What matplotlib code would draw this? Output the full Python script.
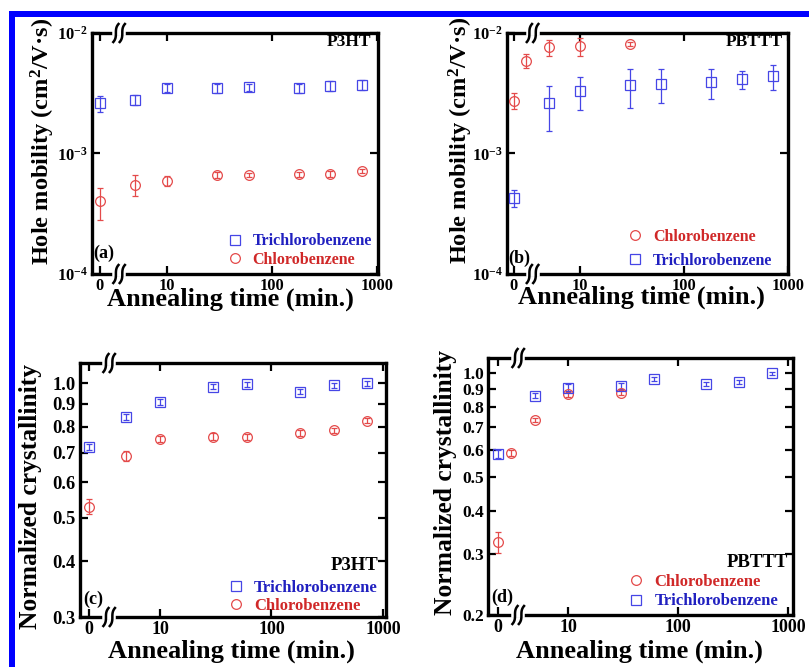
import numpy as np
import matplotlib
matplotlib.use("Agg")
import matplotlib.pyplot as plt
from matplotlib.lines import Line2D
from matplotlib.patches import Rectangle
from matplotlib.transforms import IdentityTransform

plt.rcParams['font.family'] = ['Liberation Serif', 'DejaVu Serif']
plt.rcParams['font.weight'] = 'bold'
plt.rcParams['mathtext.fontset'] = 'custom'
plt.rcParams['mathtext.rm'] = 'Liberation Serif:bold'
plt.rcParams['mathtext.bf'] = 'Liberation Serif:bold'
plt.rcParams['mathtext.it'] = 'Liberation Serif:bold'
plt.rcParams['mathtext.default'] = 'rm'

# ---------------- data ----------------
t_all = [0, 5, 10, 30, 60, 180, 360, 720]
t_cb_pbttt = [0, 3, 5, 10, 30]

a_tcb = [2.6e-3, 2.8e-3, 3.5e-3, 3.5e-3, 3.55e-3, 3.5e-3, 3.65e-3, 3.7e-3]
a_tcb_err = [0.4e-3, 0.25e-3, 0.25e-3, 0.3e-3, 0.25e-3, 0.3e-3, 0.35e-3, 0.35e-3]
a_cb = [4.0e-4, 5.5e-4, 5.95e-4, 6.65e-4, 6.6e-4, 6.7e-4, 6.75e-4, 7.2e-4]
a_cb_err = [1.2e-4, 1.1e-4, 0.6e-4, 0.4e-4, 0.25e-4, 0.35e-4, 0.35e-4, 0.25e-4]

b_cb = [2.75e-3, 5.9e-3, 7.6e-3, 7.8e-3, 8.1e-3]
b_cb_err = [0.4e-3, 0.75e-3, 1.2e-3, 1.3e-3, 0.35e-3]
b_tcb = [4.3e-4, 2.6e-3, 3.3e-3, 3.7e-3, 3.8e-3, 3.95e-3, 4.15e-3, 4.4e-3]
b_tcb_err = [0.7e-4, 1.05e-3, 1.0e-3, 1.3e-3, 1.2e-3, 1.1e-3, 0.7e-3, 1.05e-3]

c_tcb = [0.72, 0.84, 0.908, 0.982, 0.995, 0.957, 0.99, 1.0]
c_tcb_err = [0.012] * 8
c_cb = [0.53, 0.688, 0.75, 0.76, 0.757, 0.775, 0.785, 0.825]
c_cb_err = [0.02, 0.017, 0.012, 0.012, 0.012, 0.012, 0.01, 0.01]

d_cb = [0.325, 0.587, 0.733, 0.87, 0.879]
d_cb_err = [0.022, 0.012, 0.01, 0.015, 0.015]
d_tcb = [0.584, 0.862, 0.909, 0.919, 0.963, 0.929, 0.946, 1.0]
d_tcb_err = [0.015, 0.015, 0.02, 0.02, 0.012, 0.012, 0.012, 0.01]

x_ticks = [0, 10, 100, 1000]
x_ticklabels = ['0', '10', '100', '1000']
mob_ticks = [1e-4, 1e-3, 1e-2]
mob_ticklabels = ['10$^{-4}$', '10$^{-3}$', '10$^{-2}$']
c_ticks = [0.3, 0.4, 0.5, 0.6, 0.7, 0.8, 0.9, 1.0]
d_ticks = [0.2, 0.3, 0.4, 0.5, 0.6, 0.7, 0.8, 0.9, 1.0]

# --------------- broken log x scale (0 shown left of the break) ---------------
ZPOS = np.log10(2.3)
XB = 2.5
LB = np.log10(XB)


def fwd(x):
    x = np.asarray(x, dtype=float)
    with np.errstate(divide='ignore', invalid='ignore'):
        lg = np.log10(np.where(x >= XB, x, XB))
    return np.where(x >= XB, lg, ZPOS + (LB - ZPOS) * x / XB)


def inv(y):
    y = np.asarray(y, dtype=float)
    return np.where(y >= LB, 10.0 ** y, (y - ZPOS) * XB / (LB - ZPOS))


W, H = 809, 667
fig = plt.figure(figsize=(W / 100, H / 100), dpi=100)

BLUE_M = '#4646e6'
RED_M = '#e44a4a'
BLUE_T = '#2020c0'
RED_T = '#d02828'


def make_ax(l, r, t, b):
    return fig.add_axes([l / W, 1 - b / H, (r - l) / W, (b - t) / H])


def style(ax, pos_lim, ylim, yticks, yticklabels, fs_x, fs_y):
    ax.set_xscale('function', functions=(fwd, inv))
    ax.set_xlim(float(inv(pos_lim[0])), float(inv(pos_lim[1])))
    ax.set_yscale('log')
    ax.set_ylim(*ylim)
    ax.set_xticks(x_ticks)
    ax.set_xticklabels(x_ticklabels)
    ax.set_yticks(yticks)
    ax.set_yticklabels(yticklabels)
    ax.yaxis.set_minor_locator(matplotlib.ticker.NullLocator())
    ax.xaxis.set_minor_locator(matplotlib.ticker.NullLocator())
    ax.tick_params(which='both', direction='in', top=True, right=True,
                   length=6, width=1.6)
    ax.tick_params(axis='x', labelsize=fs_x, pad=3)
    ax.tick_params(axis='y', labelsize=fs_y, pad=3)
    for s in ax.spines.values():
        s.set_linewidth(2.4)


def series(ax, t, v, e, marker, color):
    ax.errorbar(t, v, yerr=e, fmt=marker, mfc='none', mec=color, ms=7,
                mew=0.9, ecolor=color, elinewidth=0.9, capsize=2.5,
                capthick=0.9, zorder=3)


def breaks(ax):
    xd = ax.transData.transform((3.5, 1.0))[0]
    for yf in (0.0, 1.0):
        yd = ax.transAxes.transform((0, yf))[1]
        ax.add_line(Line2D([xd - 4, xd + 4], [yd, yd], color='white', lw=4,
                           transform=IdentityTransform(), clip_on=False, zorder=4))
        tt = np.linspace(-1, 1, 40)
        for k in (-1, 1):
            xs = xd + 3.2 * k + 2.6 * tt ** 3
            ys = yd + 9.0 * tt
            ax.add_line(Line2D(xs, ys, color='black', lw=1.8,
                               transform=IdentityTransform(), clip_on=False, zorder=5))


def legend(ax, order, anchor, fs, spacing):
    handles = []
    labels = []
    colors = []
    for name in order:
        if name == 'TCB':
            handles.append(Line2D([], [], ls='none', marker='s', mfc='none',
                                  mec=BLUE_M, ms=7, mew=0.9))
            labels.append('Trichlorobenzene')
            colors.append(BLUE_T)
        else:
            handles.append(Line2D([], [], ls='none', marker='o', mfc='none',
                                  mec=RED_M, ms=7, mew=0.9))
            labels.append('Chlorobenzene')
            colors.append(RED_T)
    lg = ax.legend(handles, labels, loc='lower right', bbox_to_anchor=anchor,
                   frameon=False, fontsize=fs, handlelength=0.8,
                   handletextpad=0.7, labelspacing=spacing, borderaxespad=0,
                   borderpad=0.1)
    for txt, c in zip(lg.get_texts(), colors):
        txt.set_color(c)


def labels(ax, xl, yl, xpos, ypos, fsx=19, fsy=18.4):
    ax.set_xlabel(xl, fontsize=fsx, fontweight='bold')
    ax.set_ylabel(yl, fontsize=fsy, fontweight='bold')
    ax.xaxis.set_label_coords(*xpos)
    ax.xaxis.label.set_verticalalignment('baseline')
    ax.yaxis.set_label_coords(*ypos)
    ax.yaxis.label.set_verticalalignment('baseline')


mob_label = 'Hole mobility (cm$^2$/V·s)'
cry_label = 'Normalized crystallinity'
x_label = 'Annealing time (min.)'

# ---- (a)
ax = make_ax(92, 378, 33, 274)
style(ax, (0.286, 3.0095), (1e-4, 1e-2), mob_ticks, mob_ticklabels, 11.8, 12)
series(ax, t_all, a_tcb, a_tcb_err, 's', BLUE_M)
series(ax, t_all, a_cb, a_cb_err, 'o', RED_M)
labels(ax, x_label, mob_label, (0.483, -0.133), (-0.147, 0.55), fsy=17.6)
legend(ax, ['TCB', 'CB'], (0.985, 0.02), 11.5, 0.15)
ax.text(0.976, 0.945, 'P3HT', transform=ax.transAxes, ha='right', va='baseline',
        fontsize=12.5, fontweight='bold')
ax.text(0.004, 0.066, '(a)', transform=ax.transAxes, ha='left', va='baseline',
        fontsize=13, fontweight='bold')
breaks(ax)

# ---- (b)
ax = make_ax(507, 788, 33, 274)
style(ax, (0.298, 3.0), (1e-4, 1e-2), mob_ticks, mob_ticklabels, 11.8, 12)
series(ax, t_cb_pbttt, b_cb, b_cb_err, 'o', RED_M)
series(ax, t_all, b_tcb, b_tcb_err, 's', BLUE_M)
labels(ax, x_label, mob_label, (0.477, -0.124), (-0.139, 0.553), fsy=17.6)
legend(ax, ['CB', 'TCB'], (0.95, 0.015), 11.5, 0.5)
ax.text(0.982, 0.945, 'PBTTT', transform=ax.transAxes, ha='right', va='baseline',
        fontsize=12.5, fontweight='bold')
ax.text(0.004, 0.046, '(b)', transform=ax.transAxes, ha='left', va='baseline',
        fontsize=13, fontweight='bold')
breaks(ax)

# ---- (c)
ax = make_ax(80, 386, 363, 617)
style(ax, (0.2825, 3.027), (0.3, 1.11), c_ticks, [f'{v:.1f}' for v in c_ticks], 13, 13.3)
series(ax, t_all, c_tcb, c_tcb_err, 's', BLUE_M)
series(ax, t_all, c_cb, c_cb_err, 'o', RED_M)
labels(ax, x_label, cry_label, (0.496, -0.161), (-0.1405, 0.476))
legend(ax, ['TCB', 'CB'], (0.978, 0.005), 12, 0.15)
ax.text(0.974, 0.185, 'P3HT', transform=ax.transAxes, ha='right', va='baseline',
        fontsize=13.5, fontweight='bold')
ax.text(0.01, 0.051, '(c)', transform=ax.transAxes, ha='left', va='baseline',
        fontsize=13, fontweight='bold')
breaks(ax)

# ---- (d)
ax = make_ax(488, 793, 358, 615)
style(ax, (0.269, 3.0455), (0.2, 1.107), d_ticks, [f'{v:.1f}' for v in d_ticks], 13, 12.5)
series(ax, t_cb_pbttt, d_cb, d_cb_err, 'o', RED_M)
series(ax, t_all, d_tcb, d_tcb_err, 's', BLUE_M)
labels(ax, x_label, cry_label, (0.498, -0.167), (-0.118, 0.514))
legend(ax, ['CB', 'TCB'], (0.957, 0.015), 12, 0.2)
ax.text(0.984, 0.187, 'PBTTT', transform=ax.transAxes, ha='right', va='baseline',
        fontsize=13.5, fontweight='bold')
ax.text(0.01, 0.05, '(d)', transform=ax.transAxes, ha='left', va='baseline',
        fontsize=13, fontweight='bold')
breaks(ax)

# ---- blue frame
fig.add_artist(Rectangle((9 / W, 1 - 17 / H), 1 - 9 / W, 6 / H,
                         transform=fig.transFigure, color='#0000ff', lw=0))
fig.add_artist(Rectangle((9 / W, 0), 6 / W, 1 - 11 / H,
                         transform=fig.transFigure, color='#0000ff', lw=0))

fig.savefig('out.png', dpi=100)
